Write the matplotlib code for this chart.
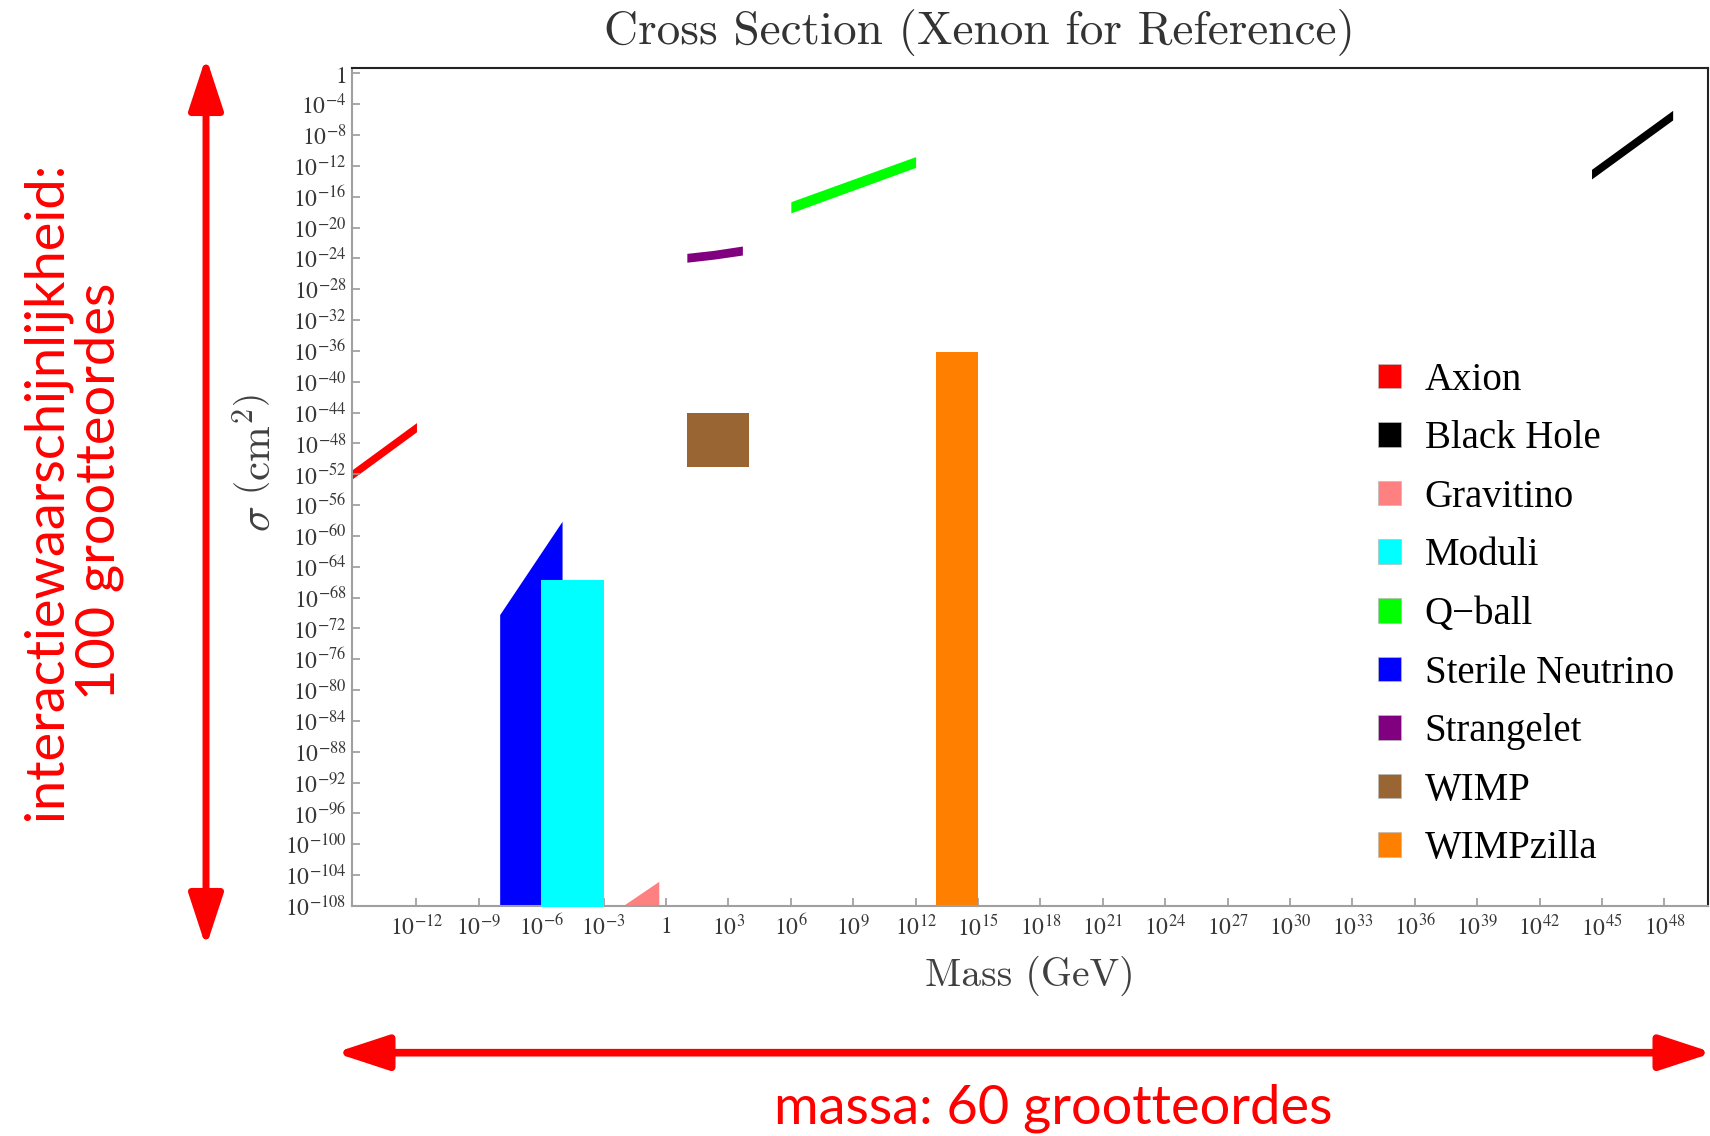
import numpy as np
import matplotlib
matplotlib.use("Agg")
import matplotlib.pyplot as plt
from matplotlib.patches import Patch, FancyArrowPatch
from matplotlib.ticker import FixedLocator, FuncFormatter, NullLocator

plt.rcParams['mathtext.fontset'] = 'stix'

# ------------------------------
# Data (mass in GeV, cross section in cm^2)
# ------------------------------
sigma_floor = 1e-112   # bars start below the plot range

axion_mass = [1e-16, 1e-12]
axion_lo = [10**-54.4, 10**-46.5]
axion_hi = [10**-53.2, 10**-45.3]

blackhole_mass = [10**44.5, 10**48.4]
blackhole_lo = [10**-13.7, 10**-6.05]
blackhole_hi = [10**-12.45, 10**-4.8]

gravitino_mass = [10**-2.1, 10**-0.35]
gravitino_top = [1e-108, 10**-104.8]

moduli_mass = [1e-6, 1e-3]
moduli_top = [10**-65.7, 10**-65.7]

qball_mass = [1e6, 1e12]
qball_lo = [10**-18.1, 10**-12.2]
qball_hi = [10**-16.65, 10**-10.8]

sterile_mass = [1e-8, 1e-5]
sterile_top = [10**-70.2, 10**-58.1]

strangelet_mass = [1e1, 10**2.3, 10**3.67]
strangelet_lo = [10**-24.5, 10**-24.1, 10**-23.57]
strangelet_hi = [10**-23.35, 10**-22.96, 10**-22.4]

wimp_mass = [1e1, 1e4]
wimp_lo = [1e-51, 1e-51]
wimp_hi = [1e-44, 1e-44]

wimpzilla_mass = [1e13, 1e15]
wimpzilla_top = [10**-36.2, 10**-36.2]

names = ["Axion", "Black Hole", "Gravitino", "Moduli", "Q\u2212ball",
         "Sterile Neutrino", "Strangelet", "WIMP", "WIMPzilla"]
colors = ["#ff0000", "#000000", "#ff8080", "#00ffff", "#00ff00",
          "#0000ff", "#800080", "#996633", "#ff8000"]

x_tick_exp = np.arange(-12, 49, 3)
y_tick_exp = np.arange(0, -109, -4)

# ------------------------------
# Figure
# ------------------------------
fig = plt.figure(figsize=(17.1, 11.36), dpi=100)
ax = fig.add_axes([352/1710, 1-906/1136, (1708-352)/1710, (906-67.7)/1136])
ax.set_xscale("log")
ax.set_yscale("log")

ax.fill_between(axion_mass, axion_lo, axion_hi, color=colors[0], lw=0)
ax.fill_between(blackhole_mass, blackhole_lo, blackhole_hi, color=colors[1], lw=0)
ax.fill_between(gravitino_mass, sigma_floor, gravitino_top, color=colors[2], lw=0)
ax.fill_between(sterile_mass, sigma_floor, sterile_top, color=colors[5], lw=0, zorder=2)
ax.fill_between(moduli_mass, sigma_floor, moduli_top, color=colors[3], lw=0, zorder=3)
ax.fill_between(qball_mass, qball_lo, qball_hi, color=colors[4], lw=0)
ax.fill_between(strangelet_mass, strangelet_lo, strangelet_hi, color=colors[6], lw=0)
ax.fill_between(wimp_mass, wimp_lo, wimp_hi, color=colors[7], lw=0)
ax.fill_between(wimpzilla_mass, sigma_floor, wimpzilla_top, color=colors[8], lw=0)

ax.set_xlim(10**-15.1, 10**50.1)
ax.set_ylim(1e-108, 10**0.73)


def fmt(v, pos):
    e = int(round(np.log10(v)))
    return r"$1$" if e == 0 else r"$10^{%d}$" % e


ax.xaxis.set_major_locator(FixedLocator(10.0**x_tick_exp))
ax.yaxis.set_major_locator(FixedLocator(10.0**y_tick_exp))
ax.xaxis.set_minor_locator(NullLocator())
ax.yaxis.set_minor_locator(NullLocator())
ax.xaxis.set_major_formatter(FuncFormatter(fmt))
ax.yaxis.set_major_formatter(FuncFormatter(fmt))
ax.tick_params(direction="in", length=6, width=1.2, color="#999999",
               labelsize=17, labelcolor="#383838")
ax.tick_params(axis="y", pad=4)
ax.tick_params(axis="x", pad=6)

for s in ["left", "bottom"]:
    ax.spines[s].set_color("#a0a0a0")
    ax.spines[s].set_linewidth(1.5)
for s in ["top", "right"]:
    ax.spines[s].set_color("#222222")
    ax.spines[s].set_linewidth(1.5)

# titles and labels
fig.text(979/1710, 1-33/1136, "Cross Section (Xenon for Reference)",
         family="cmr10", fontsize=34, color="#333333", ha="center", va="center")
fig.text(1030/1710, 1-976/1136, "Mass (GeV)", family="cmr10", fontsize=28.5,
         color="#404040", ha="center", va="center")
fig.text(258/1710, 1-463/1136, r"$\sigma\ \left(\mathrm{cm}^2\right)$",
         math_fontfamily="cm", fontsize=31, color="#404040", rotation=90,
         ha="center", va="center")

# legend
handles = [Patch(facecolor=c, edgecolor="#bbbbbb", lw=0.5) for c in colors]
ax.legend(handles, names, loc="center left", frameon=False,
          bbox_to_anchor=(1378/1710, 1-614.5/1136), bbox_transform=fig.transFigure,
          prop={"family": "Liberation Serif", "size": 28},
          handlelength=0.6, handleheight=0.6, handletextpad=0.6,
          labelspacing=0.555, borderpad=0, borderaxespad=0)

# red annotation arrows and texts
arrow_style = "<|-|>,head_length=32,head_width=10.5"
fig.patches.append(FancyArrowPatch((206/1710, 1-57/1136), (206/1710, 1-947/1136),
                                   transform=fig.transFigure, arrowstyle=arrow_style,
                                   mutation_scale=1, color="#ff0000", lw=5,
                                   shrinkA=0, shrinkB=0))
fig.patches.append(FancyArrowPatch((335/1710, 1-1052.7/1136), (1713/1710, 1-1052.7/1136),
                                   transform=fig.transFigure, arrowstyle=arrow_style,
                                   mutation_scale=1, color="#ff0000", lw=5.5,
                                   shrinkA=0, shrinkB=0))
fig.text(73/1710, 1-491/1136, "interactiewaarschijnlijkheid:\n100 grootteordes",
         family="Lato", fontsize=39, color="#ff0000", rotation=90,
         ha="center", va="center", linespacing=1.1)
fig.text(1053/1710, 1-1108/1136, "massa: 60 grootteordes",
         family="Lato", fontsize=39, color="#ff0000", ha="center", va="center")

fig.savefig("out.png", dpi=100)
